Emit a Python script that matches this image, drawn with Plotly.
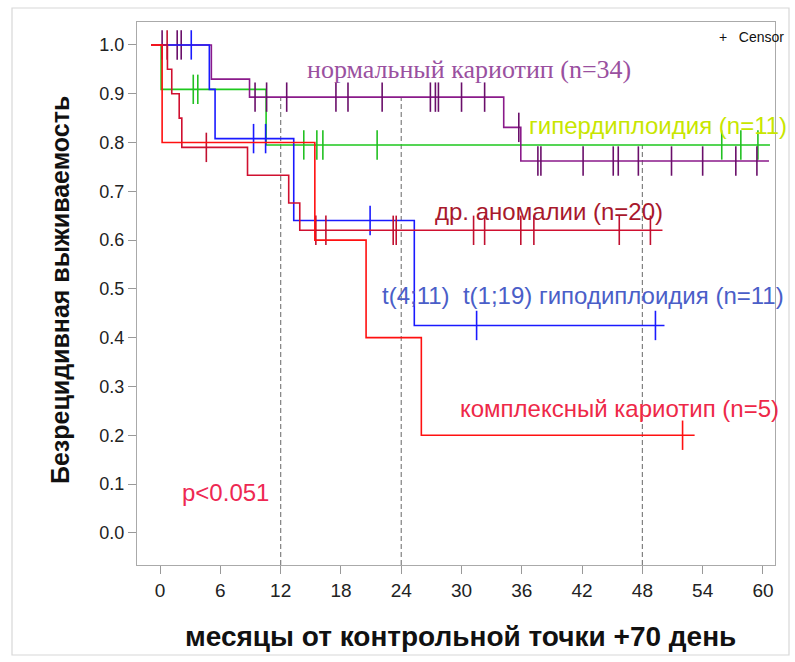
import plotly.graph_objects as go

# ---- data (months, survival) ----
normal_t = [-0.9, 5.1, 8.9, 34.2, 35.9, 60.6]
normal_s = [1.0, 0.93, 0.893, 0.831, 0.762, 0.762]
normal_cens = {1.0: [0.2, 1.7, 2.1],
               0.893: [9.45, 10.6, 12.6, 17.5, 18.7, 22.1, 26.9, 27.4, 27.7, 30.0, 32.3],
               0.831: [35.7],
               0.762: [37.6, 37.9, 42.1, 45.1, 45.6, 47.6, 50.9, 54.0, 57.3, 59.4]}

hyper_t = [0.0, 0.1, 10.55, 60.7]
hyper_s = [1.0, 0.909, 0.795, 0.795]
hyper_cens = {0.909: [3.3, 3.75],
              0.795: [14.3, 15.6, 16.2, 21.6, 55.9, 57.8, 59.5]}

hypo_t = [0.0, 4.9, 5.47, 13.3, 25.3, 50.2]
hypo_s = [1.0, 0.909, 0.808, 0.64, 0.425, 0.425]
hypo_cens = {1.0: [3.1], 0.808: [9.3, 10.5], 0.64: [20.9], 0.425: [31.5, 49.3]}

other_t = [-0.9, 0.73, 1.16, 1.9, 2.16, 8.7, 12.8, 13.9, 50.0]
other_s = [1.0, 0.95, 0.9, 0.85, 0.79, 0.733, 0.676, 0.62, 0.62]
other_cens = {1.0: [0.7], 0.79: [4.6],
              0.62: [15.5, 16.5, 23.2, 23.5, 31.2, 32.3, 35.9, 37.2, 45.7, 48.8]}

complex_t = [-0.9, 0.2, 15.4, 20.5, 26.0, 53.2]
complex_s = [1.0, 0.8, 0.6, 0.4, 0.2, 0.2]
complex_cens = {0.2: [52.0]}

ref_t = [12, 24, 48]
ref_top = [0.893, 0.893, 0.795]

x_ticks = [0, 6, 12, 18, 24, 30, 36, 42, 48, 54, 60]
y_ticks = [0.0, 0.1, 0.2, 0.3, 0.4, 0.5, 0.6, 0.7, 0.8, 0.9, 1.0]

groups = [
    ("hyper", hyper_t, hyper_s, hyper_cens, "#1ec81e", "#22c022"),
    ("normal", normal_t, normal_s, normal_cens, "#8a1a8a", "#6a0f6a"),
    ("hypo", hypo_t, hypo_s, hypo_cens, "#1a1aff", "#1a1aff"),
    ("other", other_t, other_s, other_cens, "#d01030", "#c01030"),
    ("complex", complex_t, complex_s, complex_cens, "#ff1010", "#ff1010"),
]

fig = go.Figure()

y0 = -0.066
for t, top in zip(ref_t, ref_top):
    fig.add_trace(go.Scatter(x=[t, t], y=[y0, top], mode="lines",
                             line=dict(color="#808080", width=1.2, dash="5px,3px"),
                             hoverinfo="skip", showlegend=False))

for name, ts, ss, cens, lc, cc in groups:
    fig.add_trace(go.Scatter(x=ts, y=ss, mode="lines", line_shape="hv",
                             line=dict(color=lc, width=1.6), showlegend=False, name=name))
    cx, cy = [], []
    for lvl, tl in cens.items():
        for tv in tl:
            cx.append(tv)
            cy.append(lvl)
    fig.add_trace(go.Scatter(x=cx, y=cy, mode="markers",
                             marker=dict(symbol="line-ns", size=21,
                                         line=dict(color=cc, width=1.6)),
                             showlegend=False, name=name + " censor"))

sans = "Liberation Sans, Arial, sans-serif"
labels = [
    ("нормальный кариотип (n=34)", 14.4, 0.949, "#9a50a0", "Liberation Serif, Times New Roman, serif", 26),
    ("гипердиплоидия (n=11)", 36.5, 0.834, "#c8e600", sans, 24),
    ("др. аномалии (n=20)", 27.2, 0.658, "#a8182c", sans, 24),
    ("t(4;11)  t(1;19) гиподиплоидия (n=11)", 21.9, 0.486, "#4a5ec8", sans, 24),
    ("комплексный кариотип (n=5)", 29.65, 0.254, "#ee2848", sans, 24),
    ("p<0.051", 2.0, 0.082, "#ee2852", sans, 24),
]
for txt, x, y, col, fam, sz in labels:
    fig.add_annotation(x=x, y=y, xref="x", yref="y", text=txt, showarrow=False,
                       xanchor="left", yanchor="middle",
                       font=dict(color=col, family=fam, size=sz))

fig.add_annotation(x=786 / 795, y=1 - 37 / 662, xref="paper", yref="paper",
                   text="+   Censor", showarrow=False, xanchor="right", yanchor="middle",
                   font=dict(color="#111111", family=sans, size=14))

narrow = "Liberation Sans Narrow, Arial Narrow, Liberation Sans, Arial, sans-serif"
fig.add_annotation(x=60 / 795, y=1 - 290 / 662, xref="paper", yref="paper",
                   text="<b>Безрецидивная выживаемость</b>", showarrow=False, textangle=-90,
                   xanchor="center", yanchor="middle",
                   font=dict(color="#111111", family=narrow, size=25))
fig.add_annotation(x=460 / 795, y=1 - 636 / 662, xref="paper", yref="paper",
                   text="<b>месяцы от контрольной точки +70 день</b>", showarrow=False,
                   xanchor="center", yanchor="middle",
                   font=dict(color="#111111", family=narrow, size=28))

# outer border
fig.add_shape(type="rect", xref="paper", yref="paper",
              x0=12 / 795, x1=789 / 795, y0=1 - 655 / 662, y1=1 - 8 / 662,
              line=dict(color="#d8d8d8", width=1.2), layer="below")

fig.update_layout(
    width=795, height=662, margin=dict(l=0, r=0, t=0, b=0),
    paper_bgcolor="white", plot_bgcolor="white",
    xaxis=dict(domain=[137 / 795, 775 / 795], range=[-2.3, 61.2],
               tickvals=x_ticks, ticktext=[str(v) for v in x_ticks],
               ticks="outside", ticklen=8, tickcolor="#999999",
               showgrid=False, zeroline=False, showline=True, linecolor="#aaaaaa",
               mirror=True, tickfont=dict(family=narrow, size=19, color="#222222")),
    yaxis=dict(domain=[1 - 565 / 662, 1 - 22 / 662], range=[-0.066, 1.047],
               tickvals=y_ticks, ticktext=["%.1f" % v for v in y_ticks],
               ticks="outside", ticklen=8, tickcolor="#999999",
               showgrid=False, zeroline=False, showline=True, linecolor="#aaaaaa",
               mirror=True, tickfont=dict(family=sans, size=18, color="#222222")),
)

fig.write_html("out.html")
